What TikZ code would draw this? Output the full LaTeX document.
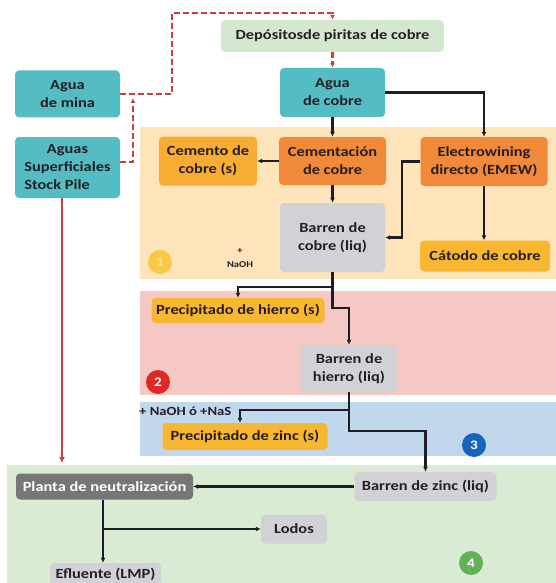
\documentclass[tikz,border=0pt]{standalone}
\usepackage{fontspec}
\setmainfont[FakeStretch=1.17]{Carlito}
\usetikzlibrary{arrows.meta,calc}
\definecolor{teal1}{RGB}{84,189,196}
\definecolor{depg}{RGB}{212,232,208}
\definecolor{bandO}{RGB}{253,228,186}
\definecolor{bandP}{RGB}{245,200,196}
\definecolor{bandB}{RGB}{193,215,236}
\definecolor{bandG}{RGB}{217,235,211}
\definecolor{orA}{RGB}{247,172,52}
\definecolor{orB}{RGB}{240,138,58}
\definecolor{yel}{RGB}{248,183,48}
\definecolor{gry}{RGB}{210,210,214}
\definecolor{dgry}{RGB}{118,118,118}
\definecolor{txt}{RGB}{38,30,34}
\definecolor{lnk}{RGB}{30,28,38}
\definecolor{rd}{RGB}{205,62,66}
\definecolor{c1}{RGB}{250,200,70}
\definecolor{c2}{RGB}{222,40,40}
\definecolor{c3}{RGB}{22,100,190}
\definecolor{c4}{RGB}{96,178,84}
\tikzset{
  box/.style={rounded corners=4pt, inner sep=0pt, align=center, text=txt,
    font=\bfseries\fontsize{14}{18}\selectfont},
  blk/.style={draw=lnk, line width=2.6pt, -{Latex[length=5pt,width=5pt]}},
  blkline/.style={draw=lnk, line width=2.6pt},
  rdash/.style={draw=rd, line width=2.5pt, dash pattern=on 6pt off 3pt, -{Latex[length=5pt,width=5pt]}},
  rsolid/.style={draw=rd, line width=2.6pt, -{Latex[length=6pt,width=6pt]}},
  numc/.style={circle, minimum size=24pt, inner sep=0pt, text=white,
    font=\bfseries\fontsize{13}{13}\selectfont}
}
\begin{document}
\begin{tikzpicture}[x=1pt,y=-1pt]
\useasboundingbox (0,0) rectangle (556,583);
% bands
\fill[bandO] (140,127) rectangle (556,279);
\fill[bandP] (140,291) rectangle (556,395);
\fill[bandB] (140,402) rectangle (556,456);
\fill[bandG] (7,465) rectangle (556,583);
% nodes
\node[box, fill=depg, minimum width=223pt, minimum height=32pt] (dep) at (332.5,36) {Depósitosde piritas de cobre};
\node[box, fill=teal1, minimum width=105pt, minimum height=49pt] (aguacobre) at (332.5,92.5) {Agua\\de cobre};
\node[box, fill=teal1, minimum width=105pt, minimum height=47pt] (mina) at (67.5,94) {Agua\\de mina};
\node[box, fill=teal1, minimum width=105pt, minimum height=61pt] (sup) at (67.5,167.5) {Aguas\\Superficiales\\\rlap{Stock Pile}\hphantom{Superficiales}};
\node[box, fill=orA, minimum width=98pt, minimum height=49pt] (cemento) at (208,161) {Cemento de\\cobre (s)};
\node[box, fill=orB, minimum width=107pt, minimum height=48pt] (cementacion) at (332.5,161) {Cementación\\de cobre};
\node[box, fill=orB, minimum width=127pt, minimum height=49pt] (emew) at (484,161.5) {Electrowining\\directo (EMEW)};
\node[box, fill=gry, minimum width=105pt, minimum height=69pt] (barrencu) at (332.5,237.5) {Barren de\\cobre (liq)};
\node[box, fill=yel, minimum width=130pt, minimum height=31pt] (catodo) at (485,256) {Cátodo de cobre};
\node[box, fill=yel, minimum width=173pt, minimum height=25pt] (preFe) at (238,310.5) {Precipitado de hierro (s)};
\node[box, fill=gry, minimum width=97pt, minimum height=47pt] (barrenFe) at (349,368.5) {Barren de\\hierro (liq)};
\node[box, fill=yel, minimum width=165pt, minimum height=27pt] (preZn) at (245,436.5) {Precipitado de zinc (s)};
\node[box, fill=gry, minimum width=142pt, minimum height=29pt] (barrenZn) at (425.5,486.5) {Barren de zinc (liq)};
\node[box, fill=dgry, text=white, minimum width=177pt, minimum height=26pt] (planta) at (104.5,486.5) {Planta de neutralización};
\node[box, fill=gry, minimum width=66pt, minimum height=29pt] (lodos) at (294,529) {Lodos};
\node[box, fill=gry, minimum width=111pt, minimum height=22pt] (efluente) at (105.5,574) {Efluente (LMP)};
% small labels
\node[align=center, text=txt, inner sep=0pt, font=\bfseries\fontsize{9}{14}\selectfont] (naoh) at (240,258) {+\\NaOH};
\node[anchor=west, text=txt, inner sep=0pt, font=\bfseries\fontsize{12.5}{14}\selectfont] (naohnas) at (139,411) {+ NaOH ó +NaS};
% numbered circles
\node[numc, fill=c1, text=c1!55!white] (n1) at (160,262) {1};
\node[numc, fill=c2] (n2) at (158,382) {2};
\node[numc, fill=c3] (n3) at (474,445) {3};
\node[numc, fill=c4] (n4) at (471,563) {4};
% red dashed connectors
\coordinate (m1) at (172,94);
\coordinate (m2) at (172,13);
\draw[rdash] (mina.east) -- (m1) -- (m2) -| (dep.north);
\draw[rdash] (dep.south) -- (aguacobre.north);
\coordinate (s1) at (133,162);
\coordinate (s2) at (133,98);
\draw[rdash] ([yshift=5.5pt]sup.east) -- (s1) -- (s2);
% red solid
\coordinate (r1) at (62,463);
\draw[rsolid] (sup.south -| r1) -- (r1);
% black connectors
\draw[blk] (aguacobre.south) -- (cementacion.north);
\draw[blk] (aguacobre.east) -| (emew.north);
\draw[blk] (cementacion.west) -- (cemento.east);
\draw[blk] (cementacion.south) -- (barrencu.north);
\coordinate (e1) at (402,161.5);
\draw[blk] (emew.west) -- (e1) |- (barrencu.east);
\draw[blk] (emew.south) -- (emew.south |- catodo.north);
\coordinate (j1) at (332.5,287);
\draw[blkline] (barrencu.south) -- (j1);
\draw[blk] (j1) -| (preFe.north);
\draw[blk] (j1) -- ++(0,21) -| (barrenFe.north);
\coordinate (j2) at (349,410);
\draw[blkline] (barrenFe.south) -- (j2);
\draw[blk] (j2) -| ([xshift=-5pt]preZn.north);
\draw[blk] (j2) -- ++(0,21) -| (barrenZn.north);
\draw[blk] (barrenZn.west) -- (planta.east);
\draw[blk] ([xshift=-1.5pt]planta.south) -- ([xshift=-1.5pt]planta.south |- efluente.north);
\draw[blk] ([xshift=-1.5pt]planta.south |- lodos.west) -- (lodos.west);
\end{tikzpicture}
\end{document}
